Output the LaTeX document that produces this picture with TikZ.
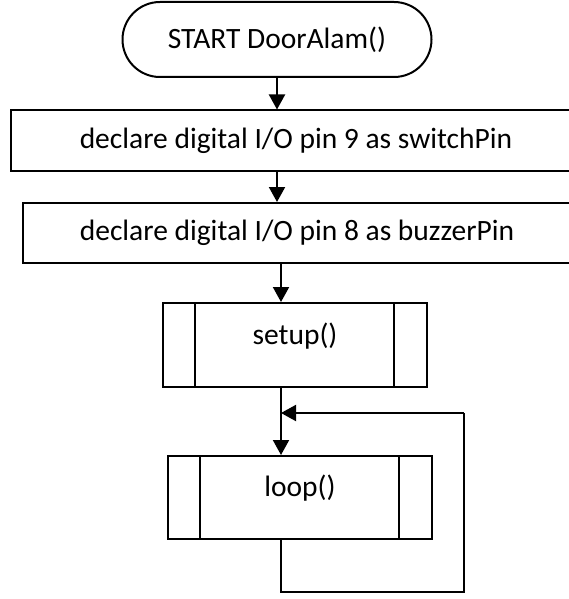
\documentclass[tikz,border=0pt]{standalone}
\usepackage{fontspec}
\setmainfont{Carlito}
\usetikzlibrary{arrows.meta,shapes.misc}
\tikzset{
  term/.style={draw,line width=2pt,rounded rectangle,minimum width=309pt,
    minimum height=75pt,inner sep=0pt},
  procbox/.style={draw,line width=2pt,minimum height=60pt,inner sep=0pt},
  predef/.style={draw,line width=2pt,minimum width=264pt,minimum height=84pt,
    inner sep=0pt,text depth=23pt,path picture={
      \draw[line width=2pt]
        ([xshift=32pt]path picture bounding box.north west) --
        ([xshift=32pt]path picture bounding box.south west)
        ([xshift=-33pt]path picture bounding box.north east) --
        ([xshift=-33pt]path picture bounding box.south east);}},
  arr/.style={line width=2pt,-{Triangle[width=16pt,length=15pt]}},
  wire/.style={line width=2pt}
}
\begin{document}
\begin{tikzpicture}[x=1pt,y=-1pt,font=\fontsize{29.5}{35}\selectfont]
  \useasboundingbox (0,0) rectangle (569,599);
  \clip (0,0) rectangle (569,599);
  \node[term] (start) at (277,39.5) {START DoorAlam()};
  \node[procbox,minimum width=570pt] (pin9) at (296,140.5)
    {declare digital I/O pin 9 as switchPin};
  \node[procbox,minimum width=548pt] (pin8) at (297,233)
    {declare digital I/O pin 8 as buzzerPin};
  \node[predef] (setup) at (295,345) {setup()};
  \node[predef,minimum height=83pt] (loop) at (300,497.5) {loop()};
  \coordinate (axis) at (281,0);
  \coordinate (back) at (464,413);
  \draw[arr] (start) -- (start |- pin9.north);
  \draw[arr] (start |- pin9.south) -- (start |- pin8.north);
  \draw[arr] (axis |- pin8.south) -- (axis |- setup.north);
  \draw[arr] (axis |- setup.south) -- (axis |- loop.north);
  \draw[wire] (axis |- loop.south) -- ++(0,52) -| (back);
  \draw[arr] (back) -- (axis |- back);
\end{tikzpicture}
\end{document}
